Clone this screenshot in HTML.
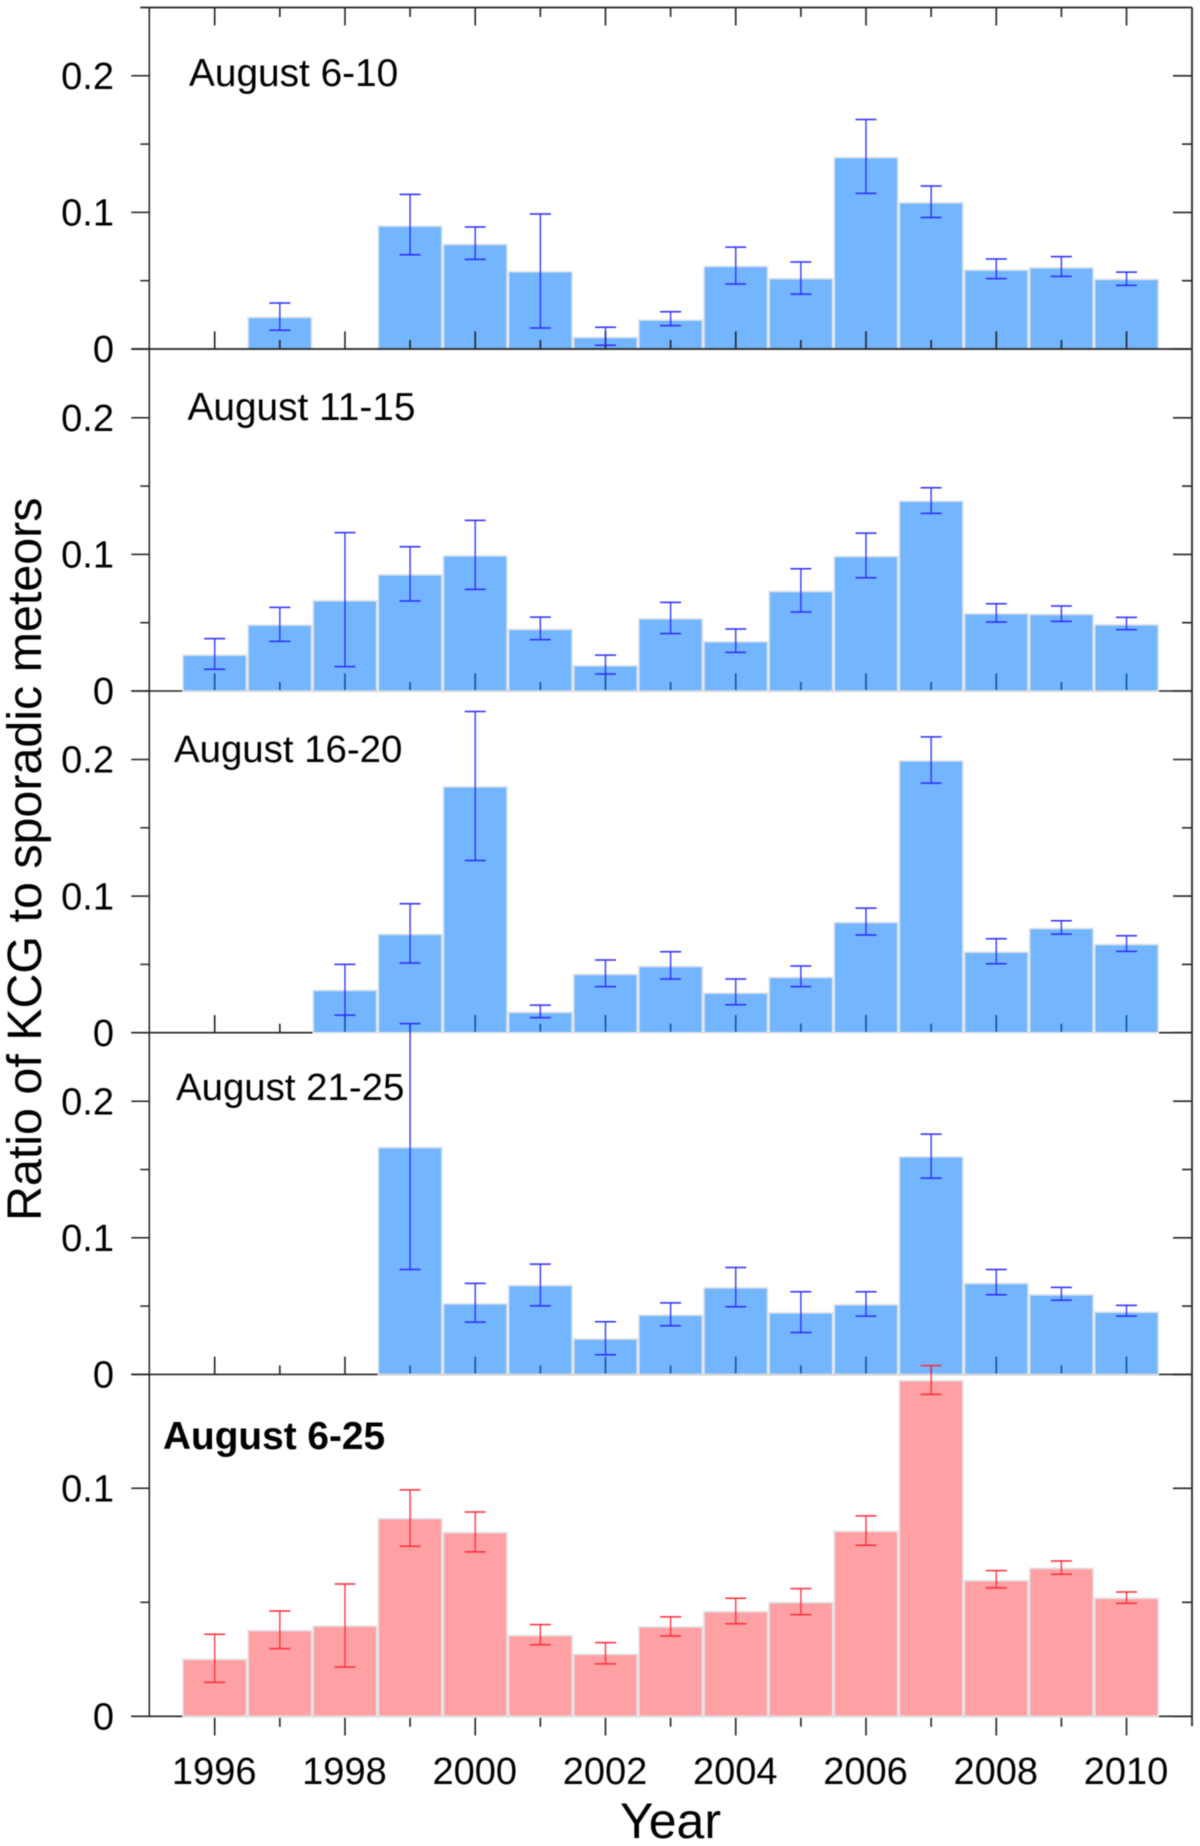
<!DOCTYPE html>
<html lang="en">
<head>
<meta charset="utf-8">
<title>Ratio of KCG to sporadic meteors</title>
<style>
html,body{margin:0;padding:0;background:#fff;}
svg{display:block;filter:blur(0.6px);}
text{font-family:"Liberation Sans",Arial,sans-serif;fill:#000;}
</style>
</head>
<body>
<svg id="chart" xmlns="http://www.w3.org/2000/svg" width="1200" height="1846" viewBox="0 0 1200 1846">
<rect width="1200" height="1846" fill="#fff"></rect>
</svg>
<script>
const years = [1996,1997,1998,1999,2000,2001,2002,2003,2004,2005,2006,2007,2008,2009,2010];

const aug06to10Values = [null,0.0232,null,0.0900,0.0766,0.0566,0.0085,0.0212,0.0605,0.0515,0.1402,0.1071,0.0578,0.0595,0.0510];
const aug06to10Upper  = [null,0.0337,null,0.1132,0.0893,0.0988,0.0159,0.0273,0.0746,0.0637,0.1680,0.1193,0.0659,0.0676,0.0563];
const aug06to10Lower  = [null,0.0137,null,0.0690,0.0656,0.0154,0.0027,0.0171,0.0476,0.0402,0.1139,0.0963,0.0515,0.0532,0.0466];

const aug11to15Values = [0.0263,0.0483,0.0661,0.0851,0.0990,0.0451,0.0185,0.0529,0.0361,0.0729,0.0985,0.1390,0.0566,0.0561,0.0485];
const aug11to15Upper  = [0.0383,0.0612,0.1159,0.1056,0.1249,0.0541,0.0263,0.0649,0.0454,0.0895,0.1156,0.1488,0.0639,0.0622,0.0539];
const aug11to15Lower  = [0.0159,0.0363,0.0178,0.0659,0.0744,0.0376,0.0124,0.0420,0.0283,0.0578,0.0829,0.1300,0.0505,0.0510,0.0449];

const aug16to20Values = [null,null,0.0310,0.0720,0.1800,0.0149,0.0427,0.0485,0.0290,0.0405,0.0807,0.1990,0.0590,0.0763,0.0646];
const aug16to20Upper  = [null,null,0.0500,0.0944,0.2351,0.0202,0.0532,0.0593,0.0393,0.0488,0.0912,0.2166,0.0688,0.0820,0.0710];
const aug16to20Lower  = [null,null,0.0129,0.0510,0.1261,0.0110,0.0337,0.0393,0.0205,0.0337,0.0715,0.1827,0.0505,0.0722,0.0595];

const aug21to25Values = [null,null,null,0.1661,0.0517,0.0651,0.0259,0.0434,0.0634,0.0451,0.0510,0.1593,0.0666,0.0583,0.0456];
const aug21to25Upper  = [null,null,null,0.2568,0.0666,0.0807,0.0385,0.0524,0.0783,0.0605,0.0605,0.1759,0.0768,0.0637,0.0505];
const aug21to25Lower  = [null,null,null,0.0768,0.0383,0.0502,0.0144,0.0356,0.0495,0.0307,0.0427,0.1437,0.0583,0.0544,0.0427];

const aug06to25Values = [0.0250,0.0376,0.0396,0.0867,0.0806,0.0354,0.0272,0.0392,0.0459,0.0499,0.0811,0.1472,0.0595,0.0649,0.0518];
const aug06to25Upper  = [0.0360,0.0462,0.0580,0.0993,0.0896,0.0402,0.0323,0.0436,0.0518,0.0560,0.0879,0.1538,0.0639,0.0681,0.0545];
const aug06to25Lower  = [0.0149,0.0297,0.0216,0.0746,0.0721,0.0314,0.0230,0.0352,0.0406,0.0446,0.0750,0.1412,0.0563,0.0623,0.0496];

const xTickYears = [1996,1997,1998,1999,2000,2001,2002,2003,2004,2005,2006,2007,2008,2009,2010];
const yTicksUpper = [0,0.05,0.1,0.15,0.2];
const yTicksBottom = [0,0.05,0.1];
const yLabelsUpper = ["0","0.1","0.2"];
const yLabelsBottom = ["0","0.1"];
const panelTitles = ["August 6-10","August 11-15","August 16-20","August 21-25","August 6-25"];

const SVG_NS = "http://www.w3.org/2000/svg";
const svg = document.getElementById("chart");
const frameLeft = 149.3, frameRight = 1192, frameTop = 7.5;
const ink = "#222";

function xScale(year){ return 214.7 + (year - 1996) * 65.13; }
function makeY(zero, perUnit){ return function(v){ return zero - v * perUnit; }; }

const panels = [
  {slug:"aug-6-10",  values:aug06to10Values, upper:aug06to10Upper, lower:aug06to10Lower, y:makeY(349,1366),   ticks:yTicksUpper,  labels:yLabelsUpper,  titleX:189,   titleY:86,   titleSize:38.8, bold:false, fill:"rgba(0,122,255,0.55)", err:"#2a2aff"},
  {slug:"aug-11-15", values:aug11to15Values, upper:aug11to15Upper, lower:aug11to15Lower, y:makeY(691,1366),   ticks:yTicksUpper,  labels:yLabelsUpper,  titleX:187.5, titleY:420,  titleSize:38.8, bold:false, fill:"rgba(0,122,255,0.55)", err:"#2a2aff"},
  {slug:"aug-16-20", values:aug16to20Values, upper:aug16to20Upper, lower:aug16to20Lower, y:makeY(1032.7,1366), ticks:yTicksUpper,  labels:yLabelsUpper,  titleX:174,   titleY:762,  titleSize:38.4, bold:false, fill:"rgba(0,122,255,0.55)", err:"#2a2aff"},
  {slug:"aug-21-25", values:aug21to25Values, upper:aug21to25Upper, lower:aug21to25Lower, y:makeY(1374.4,1366), ticks:yTicksUpper,  labels:yLabelsUpper,  titleX:176,   titleY:1100, titleSize:38.4, bold:false, fill:"rgba(0,122,255,0.55)", err:"#2a2aff"},
  {slug:"aug-6-25",  values:aug06to25Values, upper:aug06to25Upper, lower:aug06to25Lower, y:makeY(1716.3,2280), ticks:yTicksBottom, labels:yLabelsBottom, titleX:163,   titleY:1449, titleSize:38.8, bold:true,  fill:"rgba(255,0,8,0.37)",   err:"#ff2a38"}
];

function line(x1,y1,x2,y2,stroke,width){
  const el = document.createElementNS(SVG_NS,"line");
  el.setAttribute("x1",x1);
  el.setAttribute("y1",y1);
  el.setAttribute("x2",x2);
  el.setAttribute("y2",y2);
  el.setAttribute("stroke",stroke);
  el.setAttribute("stroke-width",width);
  svg.appendChild(el);
  return el;
}
function label(str,x,y,size,anchor,weight){
  const el = document.createElementNS(SVG_NS,"text");
  el.setAttribute("x",x);
  el.setAttribute("y",y);
  el.setAttribute("font-size",size);
  el.setAttribute("text-anchor",anchor);
  if(weight){ el.setAttribute("font-weight",weight); }
  el.textContent = str;
  svg.appendChild(el);
  return el;
}
function isMajorYear(year){ return year % 2 === 0; }

function drawYearTicks(p, idx){
  xTickYears.forEach(function(year){
    const len = isMajorYear(year) ? 17.7 : 9;
    const zero = p.y(0);
    const t = idx === 4 ? line(xScale(year),zero+1.5,xScale(year),zero+1.5+len,ink,1.6) : line(xScale(year),zero,xScale(year),zero-len,ink,1.6);
    
    
  });
}

function drawBars(p){
  years.forEach(function(year,i){
    const v = p.values[i];
    if(v === null){ return; }
    const el = document.createElementNS(SVG_NS,"rect");
    el.setAttribute("x",xScale(year)-31.8);
    el.setAttribute("y",p.y(v));
    el.setAttribute("width",63.6);
    el.setAttribute("height",p.y(0)-p.y(v));
    el.setAttribute("fill",p.fill);
    el.setAttribute("stroke","#e3e5e8");
    el.setAttribute("stroke-width",1.6);
    
    
    svg.appendChild(el);
  });
}

function drawErrors(p){
  years.forEach(function(year,i){
    if(p.values[i] === null){ return; }
    const x = xScale(year), hi = p.y(p.upper[i]), lo = p.y(p.lower[i]);
    const stem = line(x,hi,x,lo,p.err,1.3);
    
    
    const capHi = line(x-10.5,hi,x+10.5,hi,p.err,1.5);
    
    
    const capLo = line(x-10.5,lo,x+10.5,lo,p.err,1.5);
    
    
  });
}

function drawYAxis(p){
  p.ticks.forEach(function(v){
    const major = Math.round(v*100) % 10 === 0;
    const y = p.y(v);
    const left = line(frameLeft-(major?18:9),y,frameLeft,y,ink,1.5);
    
    
    const right = line(frameRight-(major?19:10),y,frameRight,y,ink,1.6);
    
    
  });
  p.labels.forEach(function(str){
    const t = label(str,114,p.y(parseFloat(str))+13.2,38,"end");
    
    
  });
}

/* baselines and ticks that sit beneath the translucent bars */
panels.forEach(function(p,idx){
  const zero = p.y(0);
  if(idx > 0){
    const b = line(frameLeft-18,zero,frameRight,zero,ink,1.6);
    
    
    drawYearTicks(p,idx);
  }
});
panels.forEach(function(p){ drawBars(p); });

/* first panel keeps its axis line and ticks on top of the bars */
(function(){
  const p = panels[0];
  const b = line(frameLeft-18,p.y(0),frameRight,p.y(0),ink,1.8);
  
  
  drawYearTicks(p,0);
})();

/* frame */
const frameTopLine = line(frameLeft-9,frameTop,frameRight,frameTop,ink,1.8);


const frameLeftLine = line(frameLeft,frameTop,frameLeft,panels[4].y(0),ink,1.5);


const frameRightLine = line(frameRight,frameTop,frameRight,panels[4].y(0)+10,"#333",1.9);


xTickYears.forEach(function(year){
  const t = line(xScale(year),frameTop,xScale(year),frameTop+(isMajorYear(year)?18:9.5),ink,1.6);
  
  
});

panels.forEach(function(p,i){
  drawYAxis(p);
  const t = label(panelTitles[i],p.titleX,p.titleY,p.titleSize,"start",p.bold?"bold":null);
  
  
});
panels.forEach(function(p){ drawErrors(p); });

xTickYears.forEach(function(year){
  if(!isMajorYear(year)){ return; }
  const t = label(String(year),xScale(year)-0.5,1784,38,"middle");
  
  
});

const xTitle = label("Year",670.5,1838,50,"middle");



const yTitle = label("Ratio of KCG to sporadic meteors",0,0,48.4,"start");
yTitle.setAttribute("transform","translate(41,1221) rotate(-90)");


</script>
</body>
</html>
